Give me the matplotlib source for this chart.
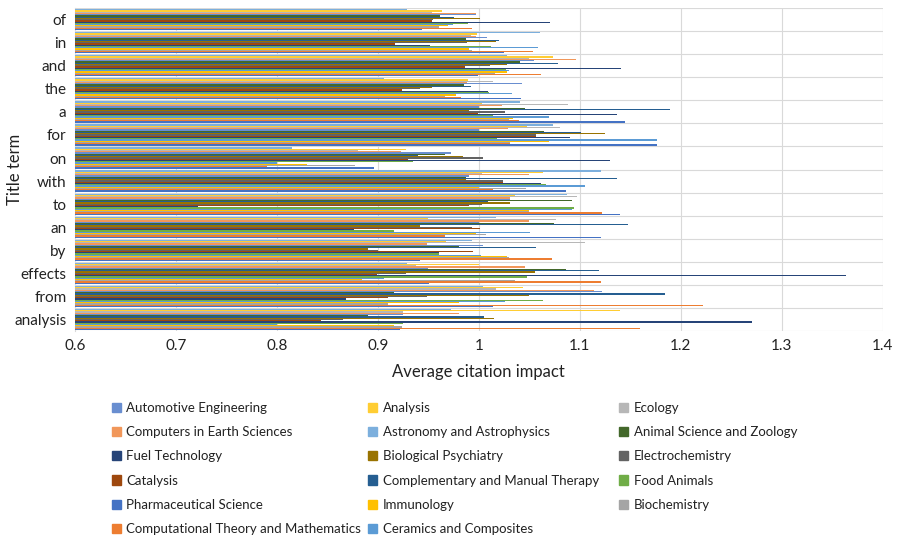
import matplotlib.pyplot as plt
import matplotlib.patches as mpatches
import numpy as np

plt.rcParams['font.family'] = ['Lato', 'DejaVu Sans']

# title terms, top of chart first
terms = ["of", "in", "and", "the", "a", "for", "on", "with", "to", "an",
         "by", "effects", "from", "analysis"]

# series in Excel order (series 1 is drawn at the bottom of each group)
fields = ["Pharmaceutical Science", "Computational Theory and Mathematics",
          "Biochemistry", "Immunology", "Ceramics and Composites", "Food Animals",
          "Fuel Technology", "Catalysis", "Electrochemistry", "Biological Psychiatry",
          "Complementary and Manual Therapy", "Animal Science and Zoology",
          "Automotive Engineering", "Computers in Earth Sciences", "Ecology",
          "Analysis", "Astronomy and Astrophysics"]

colors = ["#4472C4", "#ED7D31", "#A5A5A5", "#FFC000", "#5B9BD5", "#70AD47",
          "#264478", "#9E480E", "#636363", "#997300", "#255E91", "#43682B",
          "#698ED0", "#F1975A", "#B7B7B7", "#FFCD33", "#7CAFDD"]

# values per term, listed from the top bar down (series 17 -> series 1)
v_of = [0.929, 0.964, 0.954, 0.997, 0.997, 0.962, 0.975, 1.001, 0.955, 0.954,
        1.070, 0.989, 0.974, 0.970, 0.961, 0.993, 0.944]
v_in = [1.061, 0.998, 0.992, 0.997, 1.008, 0.987, 1.020, 1.017, 0.988, 0.917,
        0.952, 1.012, 1.059, 0.990, 0.993, 1.054, 1.025]
v_and = [1.028, 1.073, 1.050, 1.096, 1.055, 1.041, 1.078, 1.028, 1.011, 0.986,
         1.141, 1.027, 1.030, 1.028, 1.016, 1.062, 0.999]
v_the = [0.906, 0.989, 1.014, 0.988, 1.043, 0.985, 0.992, 0.954, 0.942, 0.924,
         1.009, 1.010, 1.033, 0.977, 0.967, 0.982, 1.042]
v_a = [1.041, 1.003, 1.088, 1.023, 1.000, 1.046, 1.189, 0.990, 1.026, 0.999,
       1.137, 1.014, 1.069, 1.034, 1.030, 1.040, 1.145]
v_for = [1.073, 1.048, 1.080, 1.029, 1.000, 1.065, 1.101, 1.125, 1.057, 1.057,
         1.090, 1.018, 1.176, 1.069, 1.031, 1.031, 1.176]
v_on = [0.815, 0.928, 0.880, 0.923, 0.972, 0.967, 0.940, 0.984, 1.004, 0.930,
        1.130, 0.935, 0.800, 0.830, 0.877, 0.790, 0.896]
v_with = [1.121, 1.064, 1.003, 1.050, 0.990, 0.987, 1.137, 0.987, 1.024, 1.024,
          1.062, 1.067, 1.105, 1.000, 1.047, 1.014, 1.086]
v_to = [1.087, 1.036, 1.097, 1.031, 1.031, 1.092, 1.009, 1.031, 1.003, 0.990,
        0.722, 1.094, 1.092, 1.050, 1.050, 1.122, 1.140]
v_an = [1.017, 0.950, 1.076, 1.050, 1.000, 1.074, 1.148, 0.942, 0.993, 1.001,
        0.876, 0.916, 1.051, 0.997, 1.007, 0.967, 1.121]
v_by = [0.993, 0.968, 1.105, 0.949, 1.004, 0.980, 1.057, 0.890, 0.900, 0.994,
        0.961, 0.961, 1.002, 1.028, 1.030, 1.072, 0.942]
v_effects = [0.929, 1.000, 0.938, 1.046, 0.950, 1.086, 1.119, 1.056, 0.928, 0.899,
             1.363, 1.048, 0.906, 0.884, 1.036, 1.121, 0.951]
v_from = [1.004, 1.044, 1.017, 1.114, 1.122, 0.916, 1.184, 1.050, 0.949, 0.910,
          0.869, 1.064, 1.026, 0.980, 0.910, 1.222, 1.014]
v_analysis = [0.972, 1.140, 0.925, 0.980, 0.925, 0.890, 1.005, 1.015, 0.866, 0.844,
              1.270, 0.925, 0.800, 0.916, 0.924, 1.160, 0.922]

rows = [v_of, v_in, v_and, v_the, v_a, v_for, v_on, v_with, v_to, v_an,
        v_by, v_effects, v_from, v_analysis]
# column k = series k+1 (reverse the top-down reading)
data = np.array([r[::-1] for r in rows])

base = 0.6
n_terms = len(terms)
n_series = len(fields)
group_h = 0.92
bar_h = group_h / n_series
ypos = np.arange(n_terms)[::-1]  # "of" at top

fig = plt.figure(figsize=(9, 5.4), dpi=100)
ax = fig.add_axes([0.083, 0.387, 0.898, 0.598])

for k in range(n_series):
    off = -group_h / 2 + bar_h * (k + 0.5)
    ax.barh(ypos + off, data[:, k] - base, height=bar_h, left=base,
            color=colors[k], linewidth=0, zorder=3)

ax.set_xlim(0.6, 1.4)
ax.set_ylim(-0.5, n_terms - 0.5)
xt = np.round(np.arange(0.6, 1.41, 0.1), 1)
ax.set_xticks(xt)
ax.set_xticklabels([("%g" % t) for t in xt], fontsize=11, color="#222222")
ax.set_yticks(ypos)
ax.set_yticklabels(terms, fontsize=11, color="#222222")
ax.set_yticks(np.arange(n_terms + 1) - 0.5, minor=True)
ax.tick_params(axis='both', which='both', length=0, pad=6)
ax.grid(axis='x', color="#d9d9d9", linewidth=0.8, zorder=0)
ax.grid(axis='y', which='minor', color="#d9d9d9", linewidth=0.8, zorder=0)
ax.grid(axis='y', which='major', visible=False)
for s in ax.spines.values():
    s.set_visible(False)
ax.spines['left'].set_visible(True)
ax.spines['left'].set_color("#d9d9d9")

ax.set_xlabel("Average citation impact", fontsize=12, color="#222222", labelpad=8)
ax.set_ylabel("Title term", fontsize=12, color="#222222")
ax.yaxis.set_label_coords(-0.064, 0.5)

# legend laid out in three fixed columns like the original
col1 = ["Automotive Engineering", "Computers in Earth Sciences", "Fuel Technology",
        "Catalysis", "Pharmaceutical Science", "Computational Theory and Mathematics"]
col2 = ["Analysis", "Astronomy and Astrophysics", "Biological Psychiatry",
        "Complementary and Manual Therapy", "Immunology", "Ceramics and Composites"]
col3 = ["Ecology", "Animal Science and Zoology", "Electrochemistry", "Food Animals",
        "Biochemistry"]
for names, x in [(col1, 0.124), (col2, 0.409), (col3, 0.688)]:
    handles = [mpatches.Patch(color=colors[fields.index(n)]) for n in names]
    fig.legend(handles, names, loc='upper left', bbox_to_anchor=(x, 0.256),
               frameon=False, fontsize=9.5, handlelength=0.7, handleheight=0.7,
               handletextpad=0.4, labelspacing=0.93, borderaxespad=0,
               borderpad=0, labelcolor="#222222")

fig.savefig("out.png", dpi=100)
